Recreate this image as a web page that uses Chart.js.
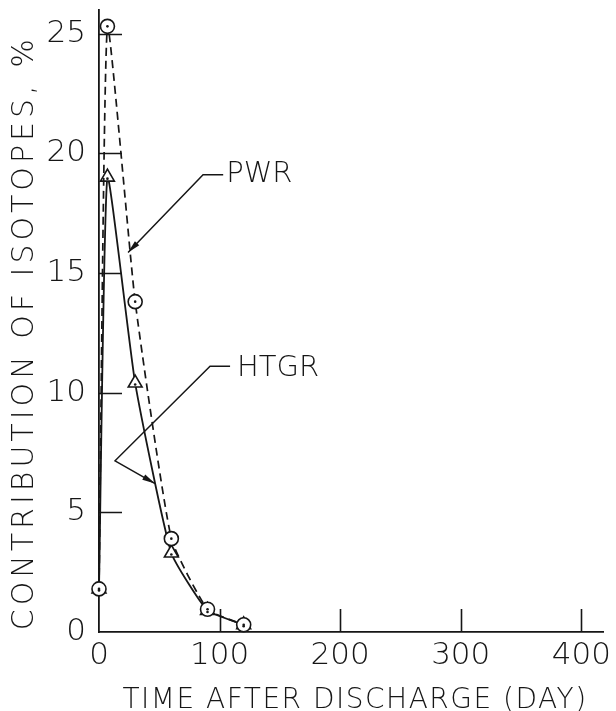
<!DOCTYPE html>
<html>
<head>
<meta charset="utf-8">
<script src="https://cdn.jsdelivr.net/npm/chart.js@4.4.1/dist/chart.umd.min.js"></script>
<style>
  html, body { margin: 0; padding: 0; background: #fff; }
  #wrap { width: 616px; height: 711px; }
</style>
</head>
<body>
<div id="wrap"><canvas id="isochart"></canvas></div>
<script>
// values
const days = [0, 7, 30, 60, 90, 120]
const pwrValues = [1.8, 25.3, 13.8, 3.9, 0.95, 0.3]
const htgrValues = [1.8, 19.0, 10.4, 3.3, 0.9, 0.3]
const xTicks = [0, 100, 200, 300, 400]
const yTicks = [0, 5, 10, 15, 20, 25]
const xTitle = "TIME AFTER DISCHARGE (DAY)"
const yTitle = "CONTRIBUTION OF ISOTOPES, %"

const ink = "#161616"
const fontFamily = "'DejaVu Sans', sans-serif"

// leader lines for the labels, in data units
const labels = [
    { text: "PWR", at: [105.5, 19.1], path: [[103, 19.1], [86.3, 19.1], [24.1, 15.85]] },
    { text: "HTGR", at: [114.5, 11.0], path: [[108.7, 11.1], [92.1, 11.1], [13.3, 7.15], [46.5, 6.2]] }
]

function toPoints(values) {
    return days.map(function (d, i) {
        return { x: d, y: values[i] }
    })
}

const innerTicks = {
    id: "innerTicks",
    afterDraw(chart) {
        const ctx = chart.ctx
        const x = chart.scales.x
        const y = chart.scales.y
        const area = chart.chartArea
        ctx.save()
        ctx.strokeStyle = ink
        ctx.lineWidth = 1.6
        ctx.beginPath()
        xTicks.forEach(function (v) {
            if (v === 0) return
            const px = Math.round(x.getPixelForValue(v)) + 0.5
            ctx.moveTo(px, area.bottom)
            ctx.lineTo(px, area.bottom - 23)
        })
        yTicks.forEach(function (v) {
            if (v === 0) return
            const py = Math.round(y.getPixelForValue(v)) + 0.5
            ctx.moveTo(area.left, py)
            ctx.lineTo(area.left + 23, py)
        })
        ctx.stroke()
        ctx.restore()
    }
}

// axis titles drawn by hand so the letter spacing can follow the original lettering
const axisTitles = {
    id: "axisTitles",
    afterDraw(chart) {
        const ctx = chart.ctx
        const area = chart.chartArea
        ctx.save()
        ctx.fillStyle = ink
        ctx.textAlign = "center"
        ctx.textBaseline = "alphabetic"
        ctx.font = "200 28px " + fontFamily
        ctx.letterSpacing = "1.5px"
        ctx.fillText(xTitle, (area.left + area.right) / 2 + 4, 708)
        ctx.translate(33, (area.top + area.bottom) / 2 + 12)
        ctx.rotate(-Math.PI / 2)
        ctx.font = "200 30px " + fontFamily
        ctx.letterSpacing = "4px"
        ctx.fillText(yTitle, 0, 0)
        ctx.restore()
    }
}

const markerDots = {
    id: "markerDots",
    afterDatasetsDraw(chart) {
        const ctx = chart.ctx
        ctx.save()
        ctx.fillStyle = ink
        chart.data.datasets.forEach(function (ds, i) {
            chart.getDatasetMeta(i).data.forEach(function (pt) {
                ctx.beginPath()
                ctx.arc(pt.x, pt.y + (ds.pointStyle === "triangle" ? 1.5 : 0), 1.3, 0, Math.PI * 2)
                ctx.fill()
            })
        })
        ctx.restore()
    }
}

const leaders = {
    id: "leaders",
    afterDatasetsDraw(chart) {
        const ctx = chart.ctx
        const x = chart.scales.x
        const y = chart.scales.y
        ctx.save()
        ctx.strokeStyle = ink
        ctx.fillStyle = ink
        ctx.lineWidth = 1.5
        labels.forEach(function (lab) {
            const pts = lab.path.map(function (p) {
                return [x.getPixelForValue(p[0]), y.getPixelForValue(p[1])]
            })
            ctx.beginPath()
            ctx.moveTo(pts[0][0], pts[0][1])
            for (let i = 1; i < pts.length; i++) ctx.lineTo(pts[i][0], pts[i][1])
            ctx.stroke()
            // arrow head at the last point
            const a = pts[pts.length - 2]
            const b = pts[pts.length - 1]
            const ang = Math.atan2(b[1] - a[1], b[0] - a[0])
            ctx.beginPath()
            ctx.moveTo(b[0], b[1])
            ctx.lineTo(b[0] - 13 * Math.cos(ang) + 3 * Math.sin(ang), b[1] - 13 * Math.sin(ang) - 3 * Math.cos(ang))
            ctx.lineTo(b[0] - 13 * Math.cos(ang) - 3 * Math.sin(ang), b[1] - 13 * Math.sin(ang) + 3 * Math.cos(ang))
            ctx.closePath()
            ctx.fill()
            ctx.font = "200 29px " + fontFamily
            ctx.textBaseline = "middle"
            ctx.textAlign = "left"
            ctx.fillText(lab.text, x.getPixelForValue(lab.at[0]), y.getPixelForValue(lab.at[1]))
        })
        ctx.restore()
    }
}

const data = {
    datasets: [{
        label: "PWR",
        data: toPoints(pwrValues),
        borderColor: ink,
        borderWidth: 1.7,
        borderDash: [8, 5],
        pointStyle: "circle",
        pointRadius: 7,
        pointBorderWidth: 1.6,
        pointBorderColor: ink,
        pointBackgroundColor: "#fff",
        tension: 0.15,
        clip: false
    }, {
        label: "HTGR",
        data: toPoints(htgrValues),
        borderColor: ink,
        borderWidth: 1.8,
        pointStyle: "triangle",
        pointRadius: 8,
        pointBorderWidth: 1.6,
        pointBorderColor: ink,
        pointBackgroundColor: "#fff",
        tension: 0.15,
        clip: false
    }]
}

const tickFont = { family: fontFamily, size: 31, weight: 200 }

const config = {
    type: "line",
    data,
    options: {
        responsive: false,
        animation: false,
        layout: { padding: { top: 6, right: 13, left: 0, bottom: 0 } },
        plugins: {
            legend: { display: false },
            tooltip: { enabled: false }
        },
        scales: {
            x: {
                type: "linear",
                min: 0,
                max: 418,
                afterBuildTicks: function (scale) {
                    scale.ticks = xTicks.map(function (v) { return { value: v } })
                },
                afterFit: function (scale) {
                    scale.height = 79
                    scale.paddingLeft = 0
                    scale.paddingRight = 0
                },
                grid: { display: false, drawTicks: false },
                border: { display: true, color: ink, width: 1.8 },
                ticks: { color: ink, font: tickFont, padding: 5, maxRotation: 0 }
            },
            y: {
                min: 0,
                max: 26,
                afterBuildTicks: function (scale) {
                    scale.ticks = yTicks.map(function (v) { return { value: v } })
                },
                afterFit: function (scale) {
                    scale.width = 99
                    scale.paddingTop = 0
                    scale.paddingBottom = 0
                },
                grid: { display: false, drawTicks: false },
                border: { display: true, color: ink, width: 1.8 },
                ticks: { color: ink, font: tickFont, padding: 13 }
            }
        }
    },
    plugins: [innerTicks, markerDots, leaders, axisTitles]
}

const canvas = document.getElementById("isochart")
canvas.width = 616
canvas.height = 711
const myChart = new Chart(canvas, config)
</script>
</body>
</html>
